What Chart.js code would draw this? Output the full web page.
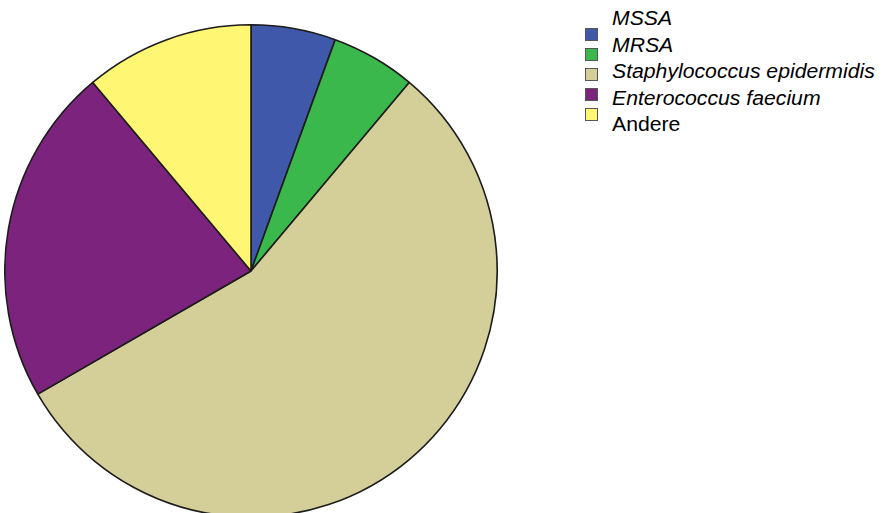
<!DOCTYPE html>
<html>
<head>
<meta charset="utf-8">
<script src="https://cdn.jsdelivr.net/npm/chart.js@4.4.1/dist/chart.umd.min.js"></script>
<style>
    html, body { margin: 0; padding: 0; background: #fff; overflow: hidden; }
    body { width: 887px; height: 513px; position: relative; font-family: "Liberation Sans", Arial, sans-serif; }
    #pieBox { position: absolute; left: 4px; top: 24px; width: 494px; height: 494px; }
    #swatches { position: absolute; left: 585px; top: 28px; }
    #swatches div { width: 11px; height: 11px; border: 1px solid #555; margin-bottom: 7px; }
    #labels { position: absolute; left: 612px; top: 5px; font-size: 20px; line-height: 26.5px; color: #000;
              white-space: nowrap; transform: scaleX(1.06); transform-origin: left top; }
</style>
</head>
<body>
<div id="pieBox"><canvas id="pieChart"></canvas></div>
<div id="swatches"></div>
<div id="labels"></div>
<script>
// organisms and counts
const organisms = ['MSSA', 'MRSA', 'Staphylococcus epidermidis', 'Enterococcus faecium', 'Andere'];
const counts = [1, 1, 10, 4, 2];
const italicName = [true, true, true, true, false];
const sliceColors = ['#3f58a9', '#3bb84b', '#d4cf99', '#7c237d', '#fff674'];

const ctx = document.getElementById('pieChart').getContext('2d');
const chart = new Chart(ctx, {
    type: 'pie',
    data: {
        labels: organisms,
        datasets: [{
            data: counts,
            backgroundColor: sliceColors,
            borderColor: '#1c1c1c',
            borderWidth: 1.6,
            hoverOffset: 0
        }]
    },
    options: {
        responsive: true,
        maintainAspectRatio: false,
        animation: false,
        layout: { padding: 0 },
        plugins: {
            legend: { display: false },
            tooltip: { enabled: false }
        }
    }
});

// legend, built from the same arrays
const swatchBox = document.getElementById('swatches');
const labelBox = document.getElementById('labels');
organisms.forEach((name, i) => {
    const sw = document.createElement('div');
    sw.style.background = sliceColors[i];
    swatchBox.appendChild(sw);
    const lb = document.createElement('div');
    lb.textContent = name;
    if (italicName[i]) lb.style.fontStyle = 'italic';
    labelBox.appendChild(lb);
});
</script>
</body>
</html>
